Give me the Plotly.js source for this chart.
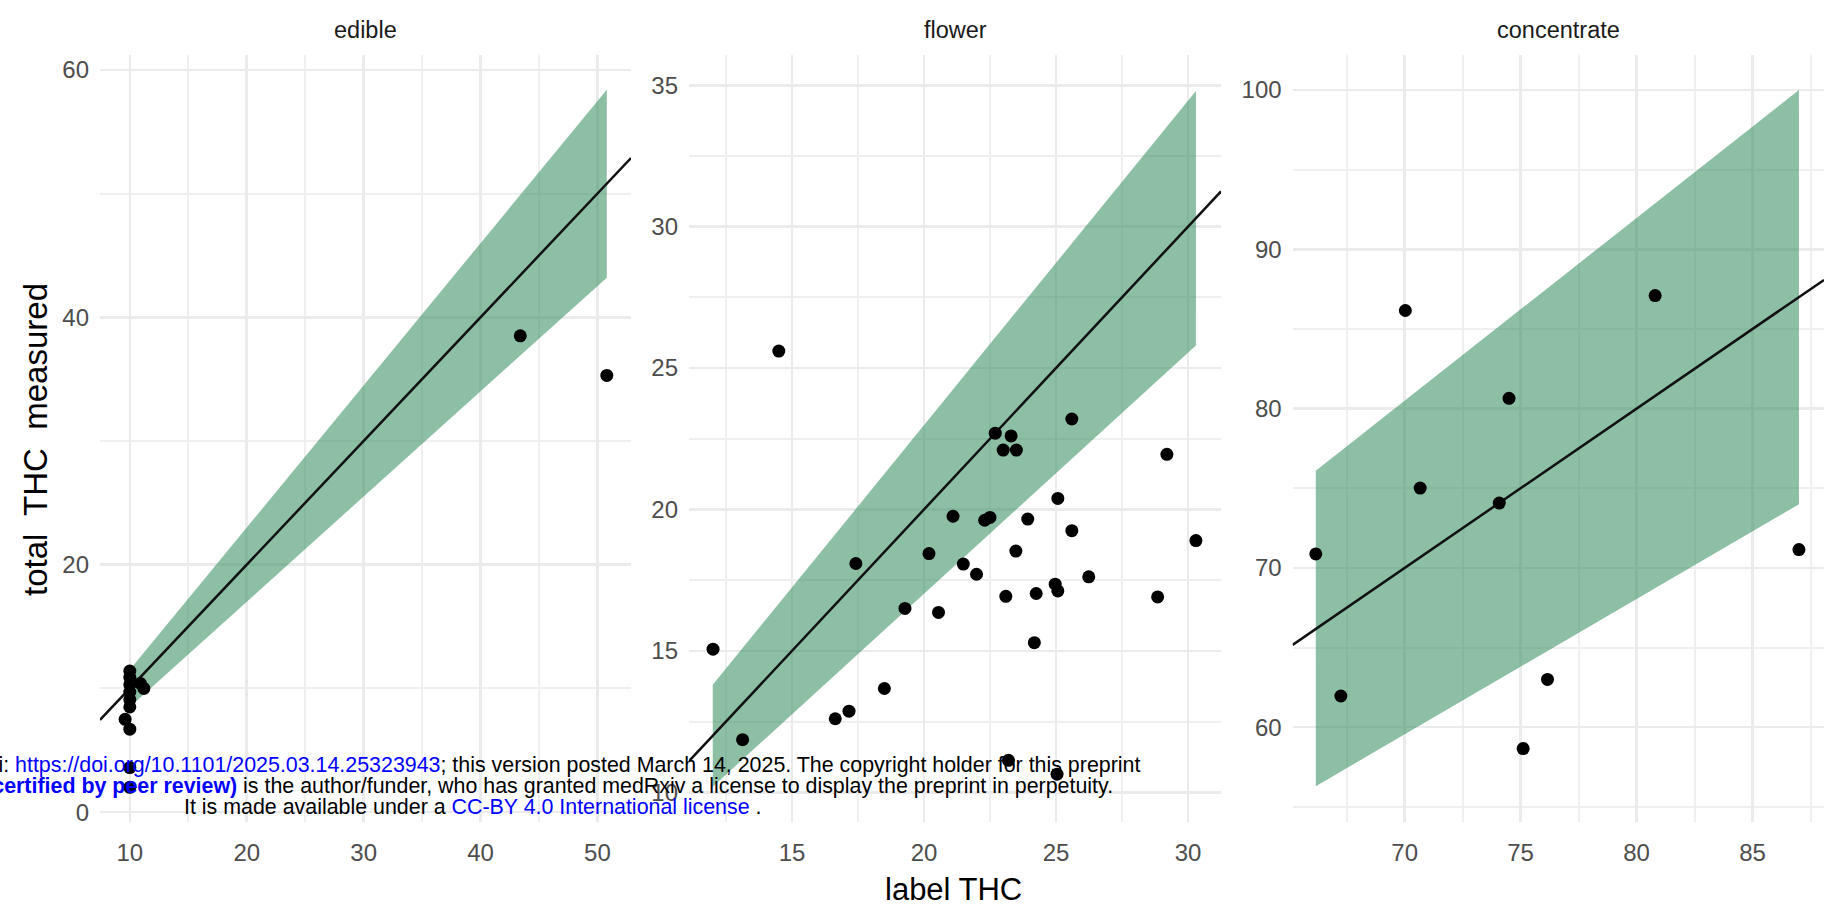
<!DOCTYPE html>
<html>
<head>
<meta charset="utf-8">
<script src="https://cdn.plot.ly/plotly-3.0.1.min.js"></script>
<style>
  html, body { margin: 0; padding: 0; background: #ffffff; }
  #chart { width: 1826px; height: 914px; }
</style>
</head>
<body>
<div id="chart"></div>
<script>
// ---------- data ----------
const panelNames = ["edible", "flower", "concentrate"];

const edibleX = [10, 10, 10, 10, 10, 10, 11.2, 10.9, 9.6, 10, 10, 10, 43.4, 50.8];
const edibleY = [11.4, 10.9, 10.3, 9.7, 9.1, 8.5, 10.0, 10.4, 7.5, 6.7, 3.6, 2.0, 38.5, 35.3];

const flowerX = [14.5, 25.6, 22.7, 23.3, 23.0, 23.5, 29.2, 25.07, 21.1, 22.3, 22.5, 23.93, 25.6, 30.3,
                 23.48, 20.19, 17.42, 21.49, 21.99, 26.24, 24.97, 25.07, 23.1, 24.25, 28.85, 19.28,
                 20.55, 12.01, 24.18, 18.5, 17.16, 16.64, 13.13, 23.2, 25.04];
const flowerY = [25.6, 23.2, 22.7, 22.6, 22.1, 22.1, 21.95, 20.39, 19.76, 19.62, 19.72, 19.66, 19.25, 18.9,
                 18.53, 18.44, 18.09, 18.07, 17.71, 17.62, 17.36, 17.12, 16.93, 17.03, 16.91, 16.5,
                 16.36, 15.06, 15.29, 13.67, 12.87, 12.6, 11.86, 11.13, 10.64];

const concX = [70.03, 80.8, 74.5, 70.67, 74.08, 66.17, 87.0, 67.25, 76.16, 75.11];
const concY = [86.16, 87.1, 80.65, 75.01, 74.07, 70.88, 71.15, 61.96, 63.0, 58.66];

// prediction band (ribbon) end points
const edibleRibbonX = [10, 50.8];
const edibleLower   = [8.5, 43.2];
const edibleUpper   = [11.5, 58.4];
const flowerRibbonX = [12.0, 30.3];
const flowerLower   = [10.2, 25.8];
const flowerUpper   = [13.8, 34.8];
const concRibbonX   = [66.17, 87.0];
const concLower     = [56.3, 74.0];
const concUpper     = [76.1, 100.0];

// reference line end points
const edibleLineX = [7.45, 52.87];
const edibleLineY = [7.45, 52.87];
const flowerLineX = [11.1, 31.25];
const flowerLineY = [11.1, 31.25];
const concLineX   = [65.17, 88.08];
const concLineY   = [65.17, 88.08];

// ticks
const edibleXTicks = [10, 20, 30, 40, 50];
const edibleXMinor = [15, 25, 35, 45];
const edibleYTicks = [0, 20, 40, 60];
const edibleYMinor = [10, 30, 50];
const flowerXTicks = [15, 20, 25, 30];
const flowerXMinor = [12.5, 17.5, 22.5, 27.5];
const flowerYTicks = [10, 15, 20, 25, 30, 35];
const flowerYMinor = [12.5, 17.5, 22.5, 27.5, 32.5];
const concXTicks = [70, 75, 80, 85];
const concXMinor = [67.5, 72.5, 77.5, 82.5, 87.5];
const concYTicks = [60, 70, 80, 90, 100];
const concYMinor = [55, 65, 75, 85, 95];

// ---------- layout helpers ----------
const W = 1826, H = 914;
const px = v => v / W;
const py = v => 1 - v / H;
const FONT = "Liberation Sans, Arial, Helvetica, sans-serif";
const GREEN = "rgba(46,139,87,0.55)";

function ribbon(xs, lo, hi, xa, ya) {
  return {
    type: "scatter", mode: "lines", xaxis: xa, yaxis: ya,
    x: [xs[0], xs[1], xs[1], xs[0], xs[0]],
    y: [lo[0], lo[1], hi[1], hi[0], lo[0]],
    fill: "toself", fillcolor: GREEN, line: { width: 0 }, hoverinfo: "skip"
  };
}
function refLine(xs, ys, xa, ya) {
  return { type: "scatter", mode: "lines", xaxis: xa, yaxis: ya, x: xs, y: ys,
           line: { color: "#111111", width: 2.5 }, hoverinfo: "skip" };
}
function pts(xs, ys, xa, ya) {
  return { type: "scatter", mode: "markers", xaxis: xa, yaxis: ya, x: xs, y: ys,
           marker: { color: "#000000", size: 13 } };
}

const traces = [
  ribbon(edibleRibbonX, edibleLower, edibleUpper, "x", "y"),
  refLine(edibleLineX, edibleLineY, "x", "y"),
  pts(edibleX, edibleY, "x", "y"),
  ribbon(flowerRibbonX, flowerLower, flowerUpper, "x2", "y2"),
  refLine(flowerLineX, flowerLineY, "x2", "y2"),
  pts(flowerX, flowerY, "x2", "y2"),
  ribbon(concRibbonX, concLower, concUpper, "x3", "y3"),
  refLine(concLineX, concLineY, "x3", "y3"),
  pts(concX, concY, "x3", "y3")
];

const yDom = [py(822), py(55)];
function xAxis(dom, range, ticks, minor, anchor) {
  return {
    domain: dom, range: range, anchor: anchor,
    tickmode: "array", tickvals: ticks, ticks: "", showline: false, zeroline: false,
    showgrid: true, gridcolor: "#ebebeb", gridwidth: 2.5,
    minor: { tickmode: "array", tickvals: minor, showgrid: true, gridcolor: "#efefef", gridwidth: 2, ticks: "" },
    tickfont: { family: FONT, size: 24, color: "#4d4d4d" },
    ticklabelstandoff: 14, fixedrange: true
  };
}
function yAxis(range, ticks, minor, anchor) {
  return {
    domain: yDom, range: range, anchor: anchor,
    tickmode: "array", tickvals: ticks, ticks: "", showline: false, zeroline: false,
    showgrid: true, gridcolor: "#ebebeb", gridwidth: 2.5,
    minor: { tickmode: "array", tickvals: minor, showgrid: true, gridcolor: "#efefef", gridwidth: 2, ticks: "" },
    tickfont: { family: FONT, size: 24, color: "#4d4d4d" },
    ticklabelstandoff: 10, fixedrange: true
  };
}

const stripFont = { family: FONT, size: 23.5, color: "#1a1a1a" };
const wmFont = { family: FONT, size: 21.4, color: "#000000" };
const WM_X = px(473);

const annotations = [
  { text: panelNames[0], x: px(365.5), y: py(30), xref: "paper", yref: "paper", showarrow: false, font: stripFont, xanchor: "center", yanchor: "middle" },
  { text: panelNames[1], x: px(955), y: py(30), xref: "paper", yref: "paper", showarrow: false, font: stripFont, xanchor: "center", yanchor: "middle" },
  { text: panelNames[2], x: px(1558), y: py(30), xref: "paper", yref: "paper", showarrow: false, font: stripFont, xanchor: "center", yanchor: "middle" },
  { text: "total\u00A0 THC\u00A0 measured", x: px(35), y: py(440), xref: "paper", yref: "paper", showarrow: false,
    textangle: -90, font: { family: FONT, size: 33, color: "#000000" }, xanchor: "center", yanchor: "middle" },
  { text: "label THC", x: px(953), y: py(889), xref: "paper", yref: "paper", showarrow: false,
    font: { family: FONT, size: 31, color: "#000000" }, xanchor: "center", yanchor: "middle" },
  { text: "medRxiv preprint doi: <span style=\"color:#0000ff\">https://doi.org/10.1101/2025.03.14.25323943</span>; this version posted March 14, 2025. The copyright holder for this preprint",
    x: WM_X, y: py(765), xref: "paper", yref: "paper", showarrow: false, font: wmFont, xanchor: "center", yanchor: "middle" },
  { text: "<b><span style=\"color:#0000ff\">(which was not certified by peer review)</span></b> is the author/funder, who has granted medRxiv a license to display the preprint in perpetuity.",
    x: WM_X, y: py(786), xref: "paper", yref: "paper", showarrow: false, font: wmFont, xanchor: "center", yanchor: "middle" },
  { text: "It is made available under a <span style=\"color:#0000ff\">CC-BY 4.0 International license</span> .",
    x: WM_X, y: py(806.5), xref: "paper", yref: "paper", showarrow: false, font: wmFont, xanchor: "center", yanchor: "middle" }
];

const layout = {
  width: W, height: H,
  margin: { l: 0, r: 0, t: 0, b: 0 },
  paper_bgcolor: "#ffffff", plot_bgcolor: "rgba(0,0,0,0)",
  showlegend: false, hovermode: false,
  font: { family: FONT },
  xaxis:  xAxis([px(100), px(631)], [7.45, 52.87], edibleXTicks, edibleXMinor, "y"),
  yaxis:  yAxis([-0.8, 61.2], edibleYTicks, edibleYMinor, "x"),
  xaxis2: xAxis([px(689), px(1221)], [11.1, 31.25], flowerXTicks, flowerXMinor, "y2"),
  yaxis2: yAxis([8.95, 36.07], flowerYTicks, flowerYMinor, "x2"),
  xaxis3: xAxis([px(1292.6), px(1824)], [65.17, 88.08], concXTicks, concXMinor, "y3"),
  yaxis3: yAxis([54.05, 102.2], concYTicks, concYMinor, "x3"),
  annotations: annotations
};

Plotly.newPlot("chart", traces, layout, { displayModeBar: false, staticPlot: true });
</script>
</body>
</html>
